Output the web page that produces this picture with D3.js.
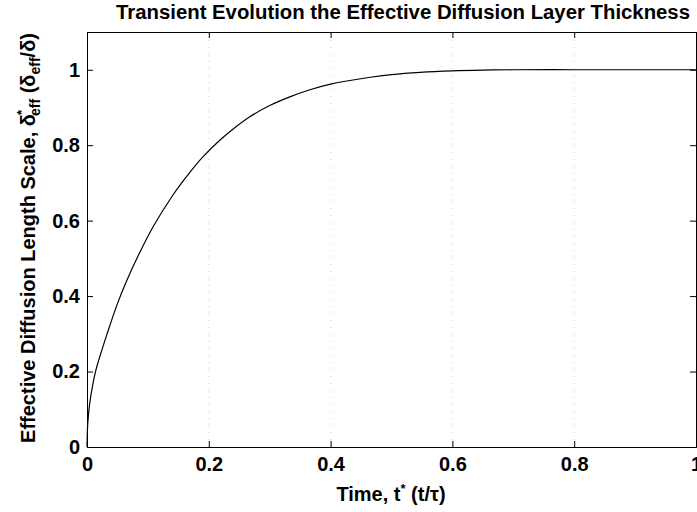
<!DOCTYPE html>
<html>
<head>
<meta charset="utf-8">
<script src="https://cdn.jsdelivr.net/npm/d3@7"></script>
<style>
	body { margin: 0; background: #fff; }
	text { font-family: Arial, "Liberation Sans", sans-serif; font-weight: bold; fill: #000; }
</style>
</head>
<body>
<div class="chart"></div>
<script>
// curve: dimensionless time vs effective length scale
let timeValues = [0, 0.001, 0.003, 0.006, 0.014, 0.025, 0.033, 0.05, 0.065, 0.085, 0.109, 0.142, 0.165, 0.188, 0.218, 0.24, 0.268, 0.3, 0.333, 0.366, 0.4, 0.465, 0.5, 0.547, 0.6, 0.65, 0.7, 0.8, 0.9, 1.0];
let deltaValues = [0, 0.055, 0.095, 0.133, 0.2, 0.26, 0.3, 0.38, 0.44, 0.51, 0.585, 0.67, 0.72, 0.765, 0.813, 0.843, 0.876, 0.905, 0.928, 0.947, 0.962, 0.98, 0.987, 0.993, 0.997, 0.999, 1.0, 1.0, 1.0, 1.0];
let xTicks = [0, 0.2, 0.4, 0.6, 0.8, 1];
let yTicks = [0, 0.2, 0.4, 0.6, 0.8, 1];

let width = 697, height = 512;
let margin = { top: 32, right: 1, bottom: 65, left: 87 };

let svg = d3.select(".chart")
	.append("svg")
	.attr("width", width)
	.attr("height", height);

let x = d3.scaleLinear().domain([0, 1]).range([margin.left, width - margin.right]);
let y = d3.scaleLinear().domain([0, 1.1]).range([height - margin.bottom, margin.top]);

//faint dotted grid lines
svg.append("g")
	.selectAll("line")
	.data(xTicks.slice(1, -1))
	.enter().append("line")
	.attr("x1", d => x(d)).attr("x2", d => x(d))
	.attr("y1", y(0)).attr("y2", y(1.1))
	.attr("stroke", "#d0d0d0")
	.attr("stroke-dasharray", "1,6");

//axes with inward ticks (all four sides)
let tickLen = 6;
let bottomAxis = svg.append("g")
	.attr("transform", "translate(0," + y(0) + ")")
	.call(d3.axisBottom(x).tickValues(xTicks).tickSize(-tickLen).tickPadding(10).tickFormat(d3.format("")));
let leftAxis = svg.append("g")
	.attr("transform", "translate(" + x(0) + ",0)")
	.call(d3.axisLeft(y).tickValues(yTicks).tickSize(-tickLen).tickPadding(7).tickFormat(d3.format("")));
svg.append("g")
	.attr("transform", "translate(0," + y(1.1) + ")")
	.call(d3.axisTop(x).tickValues(xTicks).tickSize(-tickLen).tickFormat(""));
svg.append("g")
	.attr("transform", "translate(" + x(1) + ",0)")
	.call(d3.axisRight(y).tickValues(yTicks).tickSize(-tickLen).tickFormat(""));

svg.selectAll(".domain").attr("stroke", "#000");
svg.selectAll(".tick line").attr("stroke", "#000");
svg.selectAll(".tick text").style("font-size", "20px").style("font-family", "Arial, 'Liberation Sans', sans-serif").style("font-weight", "bold");
bottomAxis.selectAll(".tick text").attr("dy", "0.71em");

//the curve
let points = timeValues.map((t, i) => ({ t: t, v: deltaValues[i] }));
let line = d3.line()
	.x(d => x(d.t))
	.y(d => y(d.v))
	.curve(d3.curveCatmullRom.alpha(0.5));

svg.append("path")
	.datum(points)
	.attr("d", line)
	.attr("fill", "none")
	.attr("stroke", "#000")
	.attr("stroke-width", 1.2);

//title
svg.append("text")
	.attr("x", 403)
	.attr("y", 19)
	.attr("text-anchor", "middle")
	.attr("textLength", 574)
	.attr("lengthAdjust", "spacingAndGlyphs")
	.style("font-size", "20px")
	.text("Transient Evolution the Effective Diffusion Layer Thickness");

//x label
let xl = svg.append("text")
	.attr("x", 391)
	.attr("y", 501)
	.attr("text-anchor", "middle")
	.style("font-size", "20px");
xl.append("tspan").text("Time, t");
xl.append("tspan").attr("dy", -8).style("font-size", "13px").text("*");
xl.append("tspan").attr("dy", 8).text(" (t/τ)");

//y label
let yl = svg.append("text")
	.attr("transform", "translate(35,238) rotate(-90)")
	.attr("text-anchor", "middle")
	.style("font-size", "20px");
yl.append("tspan").text("Effective Diffusion Length Scale, δ");
yl.append("tspan").attr("dy", -9).attr("dx", -1).style("font-size", "13px").text("*");
yl.append("tspan").attr("dy", 14).attr("dx", -6).style("font-size", "14px").text("eff");
yl.append("tspan").attr("dy", -5).text(" (δ");
yl.append("tspan").attr("dy", 5).style("font-size", "14px").text("eff");
yl.append("tspan").attr("dy", -5).text("/δ)");
</script>
</body>
</html>
